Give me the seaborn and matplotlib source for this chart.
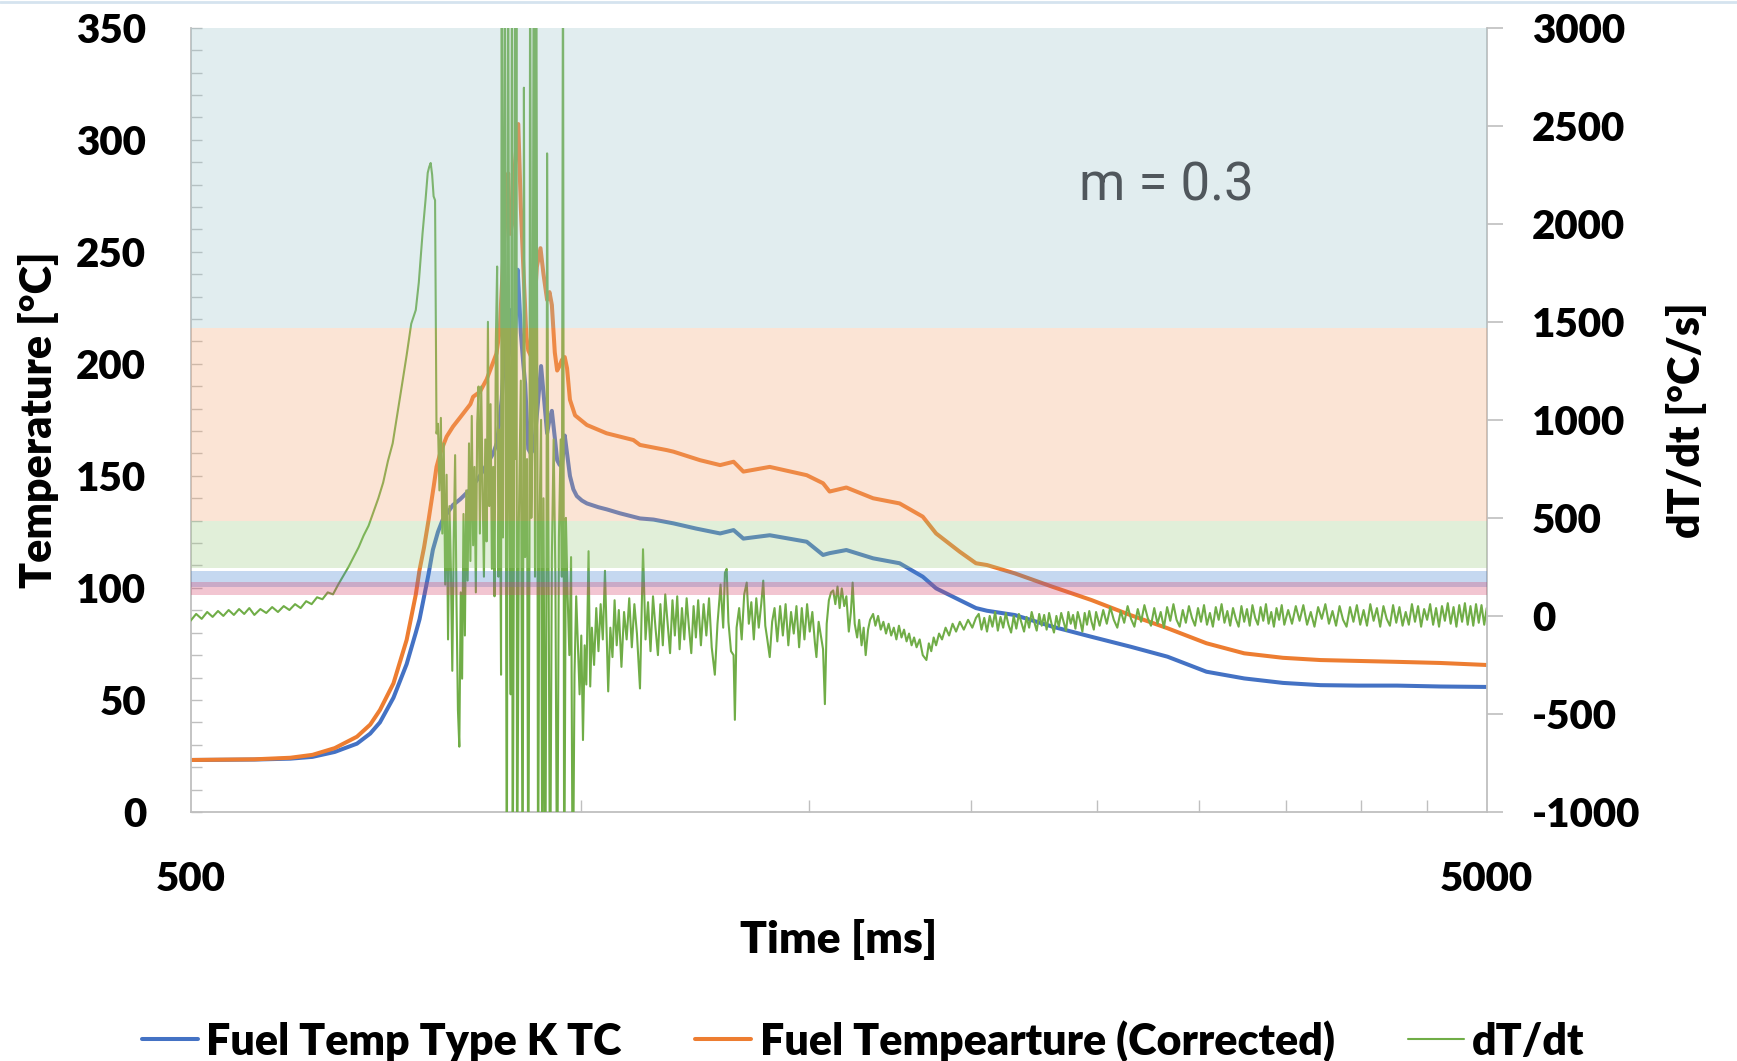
import matplotlib
matplotlib.use("Agg")
import numpy as np
import pandas as pd
import seaborn as sns
import matplotlib.pyplot as plt
from matplotlib.lines import Line2D
from matplotlib.patches import Rectangle
from matplotlib.ticker import FixedLocator, MultipleLocator, NullFormatter, FuncFormatter

# ---------------------------------------------------------------- data
# Fuel temperature, type K thermocouple  [ms, °C]
tc_time = [500, 560, 597, 621, 646, 672, 688, 700, 717, 734, 746, 751, 757, 763, 769,
           776, 782, 788, 797, 807, 822, 836, 846, 856, 862, 869, 874, 878, 882, 885,
           888, 891, 894, 897, 899, 903, 906, 911, 915, 920, 926, 932, 937, 942, 946,
           950, 955, 959, 963, 967, 972, 976, 981, 987, 993, 1002, 1011, 1032, 1048,
           1072, 1111, 1138, 1179, 1227, 1281, 1312, 1335, 1399, 1494, 1538, 1556,
           1603, 1681, 1762, 1836, 1880, 1960, 2018, 2058, 2162, 2312, 2477, 2654,
           2836, 3039, 3250, 3482, 3722, 3979, 4264, 4604, 5000]
tc_temp = [23.2, 23.4, 23.8, 24.6, 26.8, 30.5, 35, 40, 51, 66, 80, 86, 96, 106, 117,
           125, 130, 133, 137, 139.5, 144, 150, 155, 160, 165, 184, 209, 200, 224, 205,
           199, 220, 242, 226, 214, 200, 191, 162, 160, 162, 180, 199, 184, 169, 175,
           179, 167, 157, 155, 154, 168, 160, 150, 144, 141, 139, 137.7, 136, 135,
           133.3, 131, 130.5, 128.8, 126.5, 124.3, 125.8, 122, 123.5, 120.6, 114.7, 115.5,
           116.9, 113.2, 111, 105, 99.8, 94.6, 91, 89.8, 87.9, 82.7, 78.2, 73.8,
           69.3, 62.6, 59.6, 57.6, 56.6, 56.4, 56.4, 56, 55.8]

# Corrected fuel temperature  [ms, °C]
corr_time = [500, 560, 597, 621, 646, 672, 688, 700, 717, 734, 746, 751, 757, 763, 770,
             774, 779, 788, 797, 807, 812, 822, 826, 836, 846, 861, 866, 872, 876, 879,
             882, 885, 890, 895, 899, 903, 908, 911, 916, 921, 925, 931, 936, 942, 946,
             950, 955, 959, 963, 967, 972, 976, 981, 990, 1011, 1047, 1098, 1111, 1165,
             1179, 1236, 1281, 1312, 1335, 1399, 1494, 1538, 1556, 1603, 1681, 1762,
             1836, 1880, 1960, 2018, 2058, 2162, 2312, 2477, 2654, 2836, 3039, 3250,
             3482, 3722, 4264, 4604, 5000]
corr_temp = [23.2, 23.5, 24.2, 25.5, 28.5, 33.6, 39, 45.5, 57.4, 76.8, 97, 108, 118, 130, 145,
             154, 160, 167.5, 172, 176, 178, 182, 185.3, 187.5, 193, 204.6, 215, 250.8, 270, 285,
             258, 262, 290, 307, 270, 243.3, 212, 206, 203, 225, 243.3, 251.6, 240, 228.5, 232,
             226.3, 205, 197, 199, 201.7, 203, 198, 184, 177, 172.7, 169, 166, 163.8, 161.5,
             160.8, 157, 154.8, 156.3, 151.9, 154, 150.3, 146.7, 143, 144.8, 140, 137.7,
             131.8, 124.3, 116.2, 111, 110.2, 106.5, 100.5, 94.6, 87.9, 82, 75.3, 70.8,
             68.8, 67.8, 67, 66.5, 65.6]

# Heating rate dT/dt  [ms, °C/s]
rate_time = [
    500, 505, 510, 515, 520, 525, 530, 535, 540, 545, 550, 555, 560, 566, 572, 578, 584, 590,
    596, 602, 608, 614, 620, 626, 632, 638, 644, 650, 656, 662, 668, 674, 680, 686, 692, 698,
    704, 710, 716, 722, 728, 734, 740, 746, 750, 755, 759, 762, 764, 766, 768, 770, 772, 774,
    776, 778, 780, 782, 784, 786, 788, 790, 792, 794, 796, 798, 800, 802, 804, 806, 808, 810,
    812, 814, 816, 818, 820, 822, 824, 826, 828, 830, 832, 834, 836, 838, 840, 842, 844, 846,
    848, 850, 852, 854, 856, 858, 860, 862, 864, 866, 868,
    869, 871, 874, 876, 877, 879, 881, 883, 885, 886, 888, 890, 891, 892, 893, 896, 899, 902,
    904, 906, 909, 911, 913, 914, 916, 918, 920, 922, 924, 926, 927, 929, 932, 934, 936, 939,
    941, 942, 944, 947, 950, 953, 956, 959, 962, 965, 967, 969, 971, 974, 977, 980, 983, 986,
    989, 992, 995, 998, 1001, 1004, 1007, 1010, 1014, 1017, 1020,
    1024, 1028, 1032, 1036, 1040, 1044, 1050, 1054, 1058, 1062, 1066, 1070, 1075, 1080, 1085,
    1090, 1095, 1100, 1105, 1111, 1117, 1122, 1127, 1132, 1137, 1142, 1147, 1152, 1157, 1162,
    1167, 1172, 1177, 1182, 1187, 1192, 1197, 1202, 1207, 1212, 1217, 1222, 1227, 1232, 1238,
    1244, 1250, 1256, 1262, 1269, 1275, 1282, 1288, 1292, 1296, 1300, 1306, 1312, 1315, 1319,
    1325, 1331, 1337, 1343, 1348, 1354, 1360, 1366, 1372, 1378, 1383, 1388, 1393, 1399, 1405,
    1411, 1418, 1425, 1432, 1439, 1446, 1453, 1460, 1467, 1474, 1481, 1488, 1495, 1502, 1509,
    1516, 1520, 1526, 1532, 1538, 1543, 1548, 1554, 1560, 1566, 1572, 1578, 1584, 1590, 1597,
    1603, 1610, 1616, 1621, 1627, 1634, 1640, 1647, 1653, 1659, 1666, 1672, 1681, 1688, 1696,
    1704, 1712, 1720, 1728, 1736, 1744, 1752, 1760, 1768, 1776, 1784, 1792, 1800, 1808, 1816,
    1826, 1836, 1848, 1856, 1864, 1872, 1880, 1890, 1900, 1912, 1924, 1936, 1948, 1961, 1975,
    1990, 2005, 2018,
    2028, 2038, 2048, 2058, 2068, 2078, 2088, 2098, 2108, 2118, 2128, 2138, 2148, 2158, 2168,
    2178, 2188, 2198, 2208, 2218, 2228, 2238, 2248, 2258, 2268, 2278, 2288, 2298, 2308, 2318,
    2328, 2338, 2348, 2358, 2368, 2378, 2388, 2398, 2408, 2418, 2428, 2438, 2448, 2458, 2468,
    2478, 2488, 2498,
    2514, 2530, 2546, 2562, 2578, 2594, 2610, 2626, 2642, 2658, 2674, 2690, 2706, 2722, 2738,
    2754, 2770, 2786, 2802, 2818, 2834, 2850, 2866, 2882, 2898, 2914, 2930, 2946, 2962, 2978,
    2994, 3010, 3026, 3042, 3058, 3074, 3090, 3106, 3122, 3138, 3154, 3170, 3186, 3202, 3218,
    3234, 3250, 3266, 3282, 3298, 3314, 3330, 3346, 3362, 3378, 3394, 3410, 3426, 3442, 3458,
    3474, 3490,
    3514, 3538, 3562, 3586, 3610, 3634, 3658, 3682, 3706, 3730, 3754, 3778, 3802, 3826, 3850,
    3874, 3898, 3922, 3946, 3970, 3994, 4018, 4042, 4066, 4090, 4114, 4138, 4162, 4186, 4210,
    4234, 4258, 4282, 4306, 4330, 4354, 4378, 4402, 4426, 4450, 4474, 4498, 4522, 4546, 4570,
    4594, 4618, 4642, 4666, 4690, 4714, 4738, 4762, 4786, 4810, 4834, 4858, 4882, 4906, 4930,
    4954, 4978, 5000]
rate_value = [
    -25, 10, -15, 20, -5, 25, 0, 30, 5, 35, 10, 40, 5, 35, 15, 45, 20, 50,
    30, 60, 40, 75, 60, 95, 85, 120, 110, 160, 205, 250, 300, 350, 410, 460, 530, 600,
    680, 790, 880, 1030, 1180, 1330, 1490, 1560, 1700, 1950, 2120, 2260, 2290, 2310, 2250, 2140, 2120, 930,
    980, 640, 1010, 420, 880, 160, 720, -120, 560, 240, -280, 380, 820, 60, -480, -667, 120, -320,
    520, -100, 640, 180, 880, 280, 1020, 360, 760, 120, 980, 1170, 420, 1170, 640, 200, 900, 380,
    1500, 560, 1080, 240, 760, 100, 1400, 1782, 200, 950, -300,
    3600, 400, 3600, -200, -1600, 3600, 600, -400, 3600, -1600, 300, 3600, 800, 3600, -1600, 500, 1200, -1600,
    2694, 300, 800, -1600, 400, 3600, 500, 1000, 3600, 200, 3600, 800, -1600, 400, 1000, -1600, 600, -1600,
    300, 2359, 600, -1600, 300, 900, 200, -1600, 400, 900, 200, 3600, -1600, 500, 100, -200, 300, -1600,
    -300, 100, -150, -400, -100, -633, -150, -350, 330, -360, -60,
    -250, 40, -180, 60, -120, 230, -385, -60, -210, 80, -150, 30, -260, 20, -120,
    90, -160, 60, -90, -370, 340, -120, 70, -180, 100, -60, -200, 60, -150, 110,
    -40, -190, 80, -100, 100, -170, 40, -120, 90, -60, -190, 50, -110, 80, -150,
    60, -100, 90, -160, -300, -40, 160, -60, 220, 240, -30, -180, -200, -530, -60,
    40, -120, 110, 170, -40, 70, -120, 90, -60, 60, 180, -50, -120, -210, -30,
    40, -130, 50, -100, 60, -150, 20, -90, 50, -160, 40, -120, 60, -80, 20,
    -140, -210, -30, -100, -170, -450, -40, 80, 120, 130, 60, 150, 40, 140, 50,
    100, -80, 20, 170, -40, -110, -20, -150, -60, -200, -70, -20, 10, -50, 0,
    -70, -30, -90, -40, -100, -60, -120, -50, -110, -70, -130, -90, -150, -110, -160,
    -120, -200, -225, -140, -180, -110, -150, -90, -120, -60, -100, -40, -80, -30, -70,
    -20, -60, -10,
    10, -70, -10, -80, 0, -55, 20, -75, -5, -60, 15, -45, -85, 0, -65,
    10, -35, -80, -5, -60, 20, -30, -75, 10, -50, 5, -70, 15, -40, -85,
    0, -55, 15, -30, -75, 20, -40, 5, -65, 20, -25, -80, 15, -45, 25,
    -30, -70, 20,
    -50, 30, -40, 45, -20, -60, 25, -35, 50, -15, -55, 35, -30, 55, -10,
    -50, 40, -40, 20, -60, 45, -25, 60, -20, -55, 30, -35, 50, -10, -50,
    40, -30, 55, -45, 15, -55, 45, -20, 60, -35, 25, -50, 40, -15, -55,
    50, -30, 35, -50, 55, -10, -45, 45, -25, 60, -40, 20, -55, 40, -20,
    55, -45,
    30, -40, 50, -25, 55, -45, 20, -55, 45, -15, 60, -40, 25, -50, 50,
    -20, -55, 45, -30, 55, -45, 30, -50, 60, -25, 40, -55, 50, -15, -50,
    55, -35, 45, -50, 20, -45, 60, -30, 50, -55, 35, -20, 60, -45, 40,
    -55, 50, -25, 65, -40, 45, -55, 55, -30, 65, -45, 50, -50, 60, -35,
    55, -45, 40]

# Shaded temperature ranges [°C]
band_low = [216, 130, 109, 100.4, 96.8]
band_high = [350, 216, 130, 107.7, 102.8]
band_color = ["#9EC6CD", "#F2A876", "#9ECA84", "#4180D0", "#D44169"]

x_tick_values = [500, 5000]
x_minor_values = [1000, 1500, 2000, 2500, 3000, 3500, 4000, 4500]

# ---------------------------------------------------------------- style
sns.set_style("white")
plt.rcParams["font.family"] = ["Lato", "DejaVu Sans"]
plt.rcParams["font.weight"] = "heavy"
plt.rcParams["axes.labelweight"] = "heavy"
plt.rcParams["axes.unicode_minus"] = False
plt.rcParams["text.color"] = "black"
plt.rcParams["xtick.labelcolor"] = "black"
plt.rcParams["ytick.labelcolor"] = "black"
plt.rcParams["axes.labelcolor"] = "black"

BLUE = "#4472C4"
ORANGE = "#ED7D31"
GREEN = "#70AD47"
GRAY = "#BFBFBF"

fig, ax = plt.subplots(figsize=(17.37, 10.61), dpi=100)
fig.subplots_adjust(left=0.1097, right=0.8559, top=0.9739, bottom=0.2347)
ax.set_xscale("log")

tc_df = pd.DataFrame({"time": tc_time, "temp": tc_temp})
corr_df = pd.DataFrame({"time": corr_time, "temp": corr_temp})
rate_df = pd.DataFrame({"time": rate_time, "rate": rate_value})

sns.lineplot(data=tc_df, x="time", y="temp", ax=ax, color=BLUE, lw=2.9,
             estimator=None, sort=False)
sns.lineplot(data=corr_df, x="time", y="temp", ax=ax, color=ORANGE, lw=2.9,
             estimator=None, sort=False)

ax2 = ax.twinx()
sns.lineplot(data=rate_df, x="time", y="rate", ax=ax2, color=GREEN, lw=1.5,
             estimator=None, sort=False, zorder=2)

ax.set_xlim(500, 5000)
ax.set_ylim(0, 350)
ax2.set_ylim(-1000, 3000)

# translucent temperature ranges laid over all curves
band_tr = ax.get_yaxis_transform()
for lo, hi, col in zip(band_low, band_high, band_color):
    ax2.add_patch(Rectangle((0, lo), 1, hi - lo, transform=band_tr,
                            facecolor=col, edgecolor="none", alpha=0.3, zorder=3))

# x axis
ax.xaxis.set_major_locator(FixedLocator(x_tick_values))
ax.xaxis.set_major_formatter(FuncFormatter(lambda v, p: f"{v:.0f}"))
ax.xaxis.set_minor_locator(FixedLocator(x_minor_values))
ax.xaxis.set_minor_formatter(NullFormatter())
ax.tick_params(axis="x", which="minor", direction="in", length=8.6, width=1,
               color=GRAY, bottom=True)
ax.tick_params(axis="x", which="major", direction="in", length=0, pad=35,
               labelsize=29, bottom=True)

# left axis
ax.yaxis.set_major_locator(MultipleLocator(50))
ax.yaxis.set_minor_locator(MultipleLocator(10))
ax.tick_params(axis="y", which="both", direction="in", length=8, width=1,
               color=GRAY, left=True, right=False)
ax.tick_params(axis="y", which="major", pad=32, labelsize=29)

# right axis
ax2.yaxis.set_major_locator(MultipleLocator(500))
ax2.tick_params(axis="y", which="major", direction="out", length=11.5, width=1.2,
                color=GRAY, pad=21, labelsize=29, right=True)

for a in (ax, ax2):
    for s in a.spines.values():
        s.set_visible(False)
for s in ("left", "bottom"):
    ax.spines[s].set_visible(True)
    ax.spines[s].set_color(GRAY)
    ax.spines[s].set_linewidth(1.3)
ax2.spines["right"].set_visible(True)
ax2.spines["right"].set_color(GRAY)
ax2.spines["right"].set_linewidth(1.3)

# labels
ax.set_xlabel("Time [ms]", fontsize=32)
ax.xaxis.label.set_verticalalignment("center")
ax.xaxis.set_label_coords(0.5, -0.162)
ax.set_ylabel("Temperature [°C]", fontsize=31)
ax.yaxis.label.set_verticalalignment("center")
ax.yaxis.set_label_coords(-0.117, 0.5)
ax2.set_ylabel("dT/dt [°C/s]", fontsize=31, rotation=90)
ax2.yaxis.label.set_verticalalignment("center")
ax2.yaxis.set_label_coords(1.154, 0.5)

ax2.text(0.7526, 0.798, "m = 0.3", transform=ax2.transAxes, ha="center", va="center",
         fontsize=38, color="#50575C", family=["Roboto", "DejaVu Sans"],
         fontweight="normal", zorder=6)

# legend below the axes
handles = [ax.get_lines()[0], ax.get_lines()[1], ax2.get_lines()[0]]
labels = ["Fuel Temp Type K TC", "Fuel Tempearture (Corrected)", "dT/dt"]
fig.legend(handles, labels, loc="center", bbox_to_anchor=(0.497, 0.019), ncol=3,
           frameon=False, fontsize=31, handlelength=1.3, handletextpad=0.2,
           columnspacing=1.7)

fig.add_artist(Line2D([0, 1], [0.9985, 0.9985], transform=fig.transFigure,
                      color="#D5E3EF", lw=2))

fig.savefig("out.png", dpi=100)
